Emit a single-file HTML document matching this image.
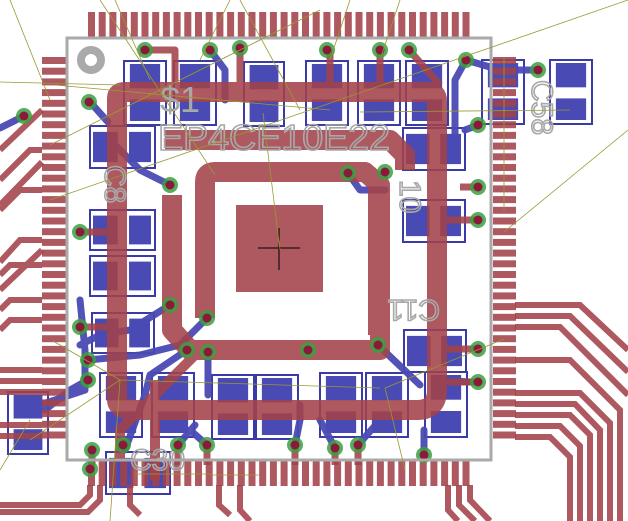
<!DOCTYPE html>
<html><head><meta charset="utf-8"><style>
html,body{margin:0;padding:0;background:#fff;}
svg{display:block;}
text{font-family:"Liberation Sans",sans-serif;}
</style></head><body>
<svg id="s" width="628" height="521" viewBox="0 0 628 521" xmlns="http://www.w3.org/2000/svg">
<g id="blue" fill="#4a4ab4" stroke="none"></g>
<g id="blueo" fill="none" stroke="#3a3aa8" stroke-width="2"></g>
<g id="bluet" fill="none" stroke="#4a4ab4" stroke-width="7" stroke-linecap="round" stroke-linejoin="round" opacity="0.95">
 <polyline points="90,102 108,122"/>
 <polyline points="0,128 24,116"/>
 <polyline points="210,50 225,70 225,100"/>
 <polyline points="466,60 455,80 455,160"/>
 <polyline points="466,60 500,70"/>
 <polyline points="538,70 505,70"/>
 <polyline points="478,125 465,130"/>
 <polyline points="348,173 360,190 385,190"/>
 <polyline points="115,145 140,170 170,185"/>
 <polyline points="170,305 130,330 100,335 80,345"/>
 <polyline points="207,318 180,345 140,355 88,360"/>
 <polyline points="378,345 420,385"/>
 <polyline points="80,300 85,350 85,390 40,405"/>
 <polyline points="88,380 70,390 45,410"/>
 <polyline points="187,350 150,375 145,395 125,450"/>
 <polyline points="208,352 208,395"/>
 <polyline points="295,445 300,420 300,405"/>
 <polyline points="335,448 320,420"/>
 <polyline points="358,445 380,420"/>
 <polyline points="207,445 190,430"/>
 <polyline points="178,445 195,425"/>
 <polyline points="424,455 424,430"/>
 <polyline points="440,380 470,382"/>
</g>
<g id="red" fill="#a3424a" opacity="0.88"></g>
<g id="redt" fill="none" stroke="#a3424a" stroke-linejoin="round" opacity="0.88">
 <path d="M117,400 L117,98 Q117,92 125,92 L428,92 Q437,92 437,101 L437,390 Q437,410 417,410 L137,410 Q117,410 117,400 Z" stroke-width="20"/>
 <path d="M172,195 L172,330 L190,350 L380,350 L380,185 L365,172 L215,172 Q205,172 205,182 L205,318" stroke-width="20"/>
 <path d="M378,172 L378,335" stroke-width="20"/>
 <polyline points="165,140 390,140 405,155 405,170" stroke-width="20"/>
 <polyline points="140,50 175,50 175,85" stroke-width="7"/>
 <polyline points="330,50 330,95" stroke-width="7"/>
 <polyline points="380,50 380,95" stroke-width="7"/>
 <polyline points="240,50 240,95" stroke-width="7"/>
 <polyline points="409,50 440,85" stroke-width="7"/>
 <polyline points="80,232 115,232" stroke-width="7"/>
 <polyline points="80,327 115,327" stroke-width="7"/>
 <polyline points="478,220 440,220" stroke-width="7"/>
 <polyline points="478,349 440,349" stroke-width="7"/>
 <polyline points="478,382 440,382" stroke-width="7"/>
 <polyline points="478,187 460,187" stroke-width="7"/>
 <polyline points="200,350 120,430 120,460" stroke-width="10"/>
 <polyline points="155,380 155,480" stroke-width="10"/>
 <polyline points="295,445 295,465" stroke-width="7"/>
 <polyline points="335,445 335,465" stroke-width="7"/>
 <polyline points="358,445 358,465" stroke-width="7"/>
 <polyline points="178,445 178,465" stroke-width="7"/>
 <polyline points="207,445 207,465" stroke-width="7"/>
 <polyline points="92,450 92,465" stroke-width="7"/>
</g>
<g id="fan" fill="none" stroke="#a3424a" stroke-width="6" opacity="0.88">
 <polyline points="515,305 580,305 628,350"/>
 <polyline points="515,316 570,316 628,372"/>
 <polyline points="515,327 560,327 628,395"/>
 <polyline points="515,360 570,360 620,410 620,521"/>
 <polyline points="515,393 580,393 610,423 610,521"/>
 <polyline points="515,404 575,404 600,430 600,521"/>
 <polyline points="515,415 570,415 590,435 590,521"/>
 <polyline points="515,426 560,426 580,446 580,521"/>
 <polyline points="515,437 550,437 570,457 570,521"/>
 <polyline points="470,485 470,500 490,521"/>
 <polyline points="459,485 459,505 475,521"/>
 <polyline points="448,485 448,510 458,521"/>
 <polyline points="42,370 0,370"/>
 <polyline points="42,381 0,381"/>
 <polyline points="42,392 0,392"/>
 <polyline points="42,425 0,425"/>
 <polyline points="42,436 0,436"/>
 <polyline points="42,110 0,150"/>
 <polyline points="42,150 30,150 0,180"/>
 <polyline points="42,162 0,205"/>
 <polyline points="42,190 20,190 0,210"/>
 <polyline points="42,240 20,240 0,262"/>
 <polyline points="42,250 0,290"/>
 <polyline points="42,265 10,265 0,275"/>
 <polyline points="42,300 10,300 0,310"/>
 <polyline points="42,320 10,320 0,330"/>
 <polyline points="100,485 100,500 88,512 0,512"/>
 <polyline points="90,485 90,495 80,505 0,505"/>
 <polyline points="130,485 130,505 140,515"/>
 <polyline points="219,485 219,505 230,515"/>
 <polyline points="240,485 240,510 250,521"/>
</g>
<g fill="none" stroke="#a8a8a8" stroke-width="1.6" font-size="36">
 <text x="160" y="112" fill="#a8a8a8" stroke="none">$1</text>
 <text x="158" y="150" fill="none" textLength="232" lengthAdjust="spacingAndGlyphs">EP4CE10E22</text>
 <text x="400" y="180" fill="none" font-size="30" transform="rotate(90 400 180)">10</text>
 <text x="440" y="300" fill="none" font-size="30" transform="rotate(180 440 300)">C11</text>
 <text x="532" y="80" fill="none" font-size="30" transform="rotate(90 532 80)">C58</text>
 <text x="105" y="165" fill="none" font-size="30" transform="rotate(90 105 165)">C8</text>
 <text x="130" y="470" fill="none" font-size="30">C30</text>
</g>
<g id="vias"></g>
<rect x="67" y="38" width="424" height="422" fill="none" stroke="#aaa" stroke-width="3"/>
<circle cx="91" cy="60" r="10" fill="none" stroke="#aaa" stroke-width="8"/>
<g stroke="#000" stroke-width="1"><line x1="258" y1="248" x2="300" y2="248"/><line x1="279" y1="228" x2="279" y2="270"/></g>
<g fill="none" stroke="#999933" stroke-width="0.8">
 <line x1="0" y1="82" x2="120" y2="85"/><line x1="10" y1="0" x2="50" y2="100"/>
 <line x1="50" y1="145" x2="320" y2="10"/><line x1="50" y1="200" x2="628" y2="0"/>
 <line x1="100" y1="0" x2="215" y2="175"/><line x1="115" y1="0" x2="150" y2="80"/>
 <line x1="230" y1="0" x2="200" y2="60"/><line x1="240" y1="0" x2="300" y2="110"/>
 <line x1="263" y1="113" x2="280" y2="250"/><line x1="350" y1="0" x2="330" y2="60"/>
 <line x1="400" y1="0" x2="380" y2="60"/><line x1="504" y1="58" x2="504" y2="210"/>
 <line x1="504" y1="232" x2="628" y2="130"/><line x1="55" y1="85" x2="330" y2="110"/>
 <line x1="53" y1="341" x2="120" y2="380"/><line x1="120" y1="380" x2="380" y2="388"/>
 <line x1="120" y1="380" x2="110" y2="521"/><line x1="0" y1="470" x2="30" y2="420"/>
 <line x1="30" y1="440" x2="120" y2="380"/><line x1="385" y1="388" x2="405" y2="470"/>
 <line x1="385" y1="388" x2="504" y2="339"/><line x1="360" y1="112" x2="570" y2="110"/>
 <line x1="260" y1="475" x2="210" y2="475"/><line x1="135" y1="474" x2="210" y2="474"/>
</g>
<script>
const NS="http://www.w3.org/2000/svg";
function el(p,t,a){const e=document.createElementNS(NS,t);for(const k in a)e.setAttribute(k,a[k]);document.getElementById(p).appendChild(e);return e;}
const pitch=10.7;
for(let i=0;i<36;i++){
 let x=88+i*pitch; el("red","rect",{x:x,y:12,width:7,height:25});
 el("red","rect",{x:x,y:461,width:7,height:25});
 let y=57+i*pitch; el("red","rect",{x:42,y:y,width:25,height:7});
 el("red","rect",{x:493,y:y,width:23,height:7});
}
el("red","rect",{x:236,y:205,width:87,height:87});
function cap(x,y,w,h,vert){el("blueo","rect",{x:x,y:y,width:w,height:h});
 if(vert){el("blue","rect",{x:x+w*0.14,y:y+3,width:w*0.72,height:h*0.38});el("blue","rect",{x:x+w*0.14,y:y+h*0.6,width:w*0.72,height:h*0.4-4});}
 else{el("blue","rect",{x:x+3,y:y+h*0.14,width:w*0.38,height:h*0.72});el("blue","rect",{x:x+w*0.6,y:y+h*0.14,width:w*0.4-4,height:h*0.72});}}
cap(124,61,42,64,1);cap(174,61,42,64,1);cap(244,62,40,64,1);cap(306,61,42,64,1);cap(358,61,42,64,1);cap(406,61,42,64,1);
cap(482,60,42,64,1);cap(550,60,42,64,1);
cap(90,126,65,42,0);cap(90,210,65,40,0);cap(90,256,65,40,0);cap(92,313,62,40,0);
cap(403,128,62,42,0);cap(403,200,62,42,0);cap(404,330,62,42,0);cap(425,372,42,65,1);
cap(100,373,42,64,1);cap(152,373,42,64,1);cap(212,375,42,64,1);cap(256,375,42,64,1);cap(320,373,42,64,1);cap(366,373,42,64,1);
cap(106,452,64,42,0);cap(8,392,40,62,1);
const vias=[[145,50],[210,50],[240,48],[327,50],[380,50],[409,50],[466,60],[538,70],[89,102],[24,116],[170,185],[348,173],[385,172],[478,125],[478,187],[478,220],[80,232],[80,327],[170,305],[207,318],[88,360],[88,380],[187,350],[208,352],[308,350],[378,345],[478,349],[478,382],[92,450],[123,445],[178,445],[207,445],[295,445],[335,448],[358,445],[424,455],[90,469]];
for(const [x,y] of vias){el("vias","circle",{cx:x,cy:y,r:8,fill:"#3aa040",opacity:0.85});el("vias","circle",{cx:x,cy:y,r:4.5,fill:"#8a1a3a"});}
</script>
</svg>
</body></html>
